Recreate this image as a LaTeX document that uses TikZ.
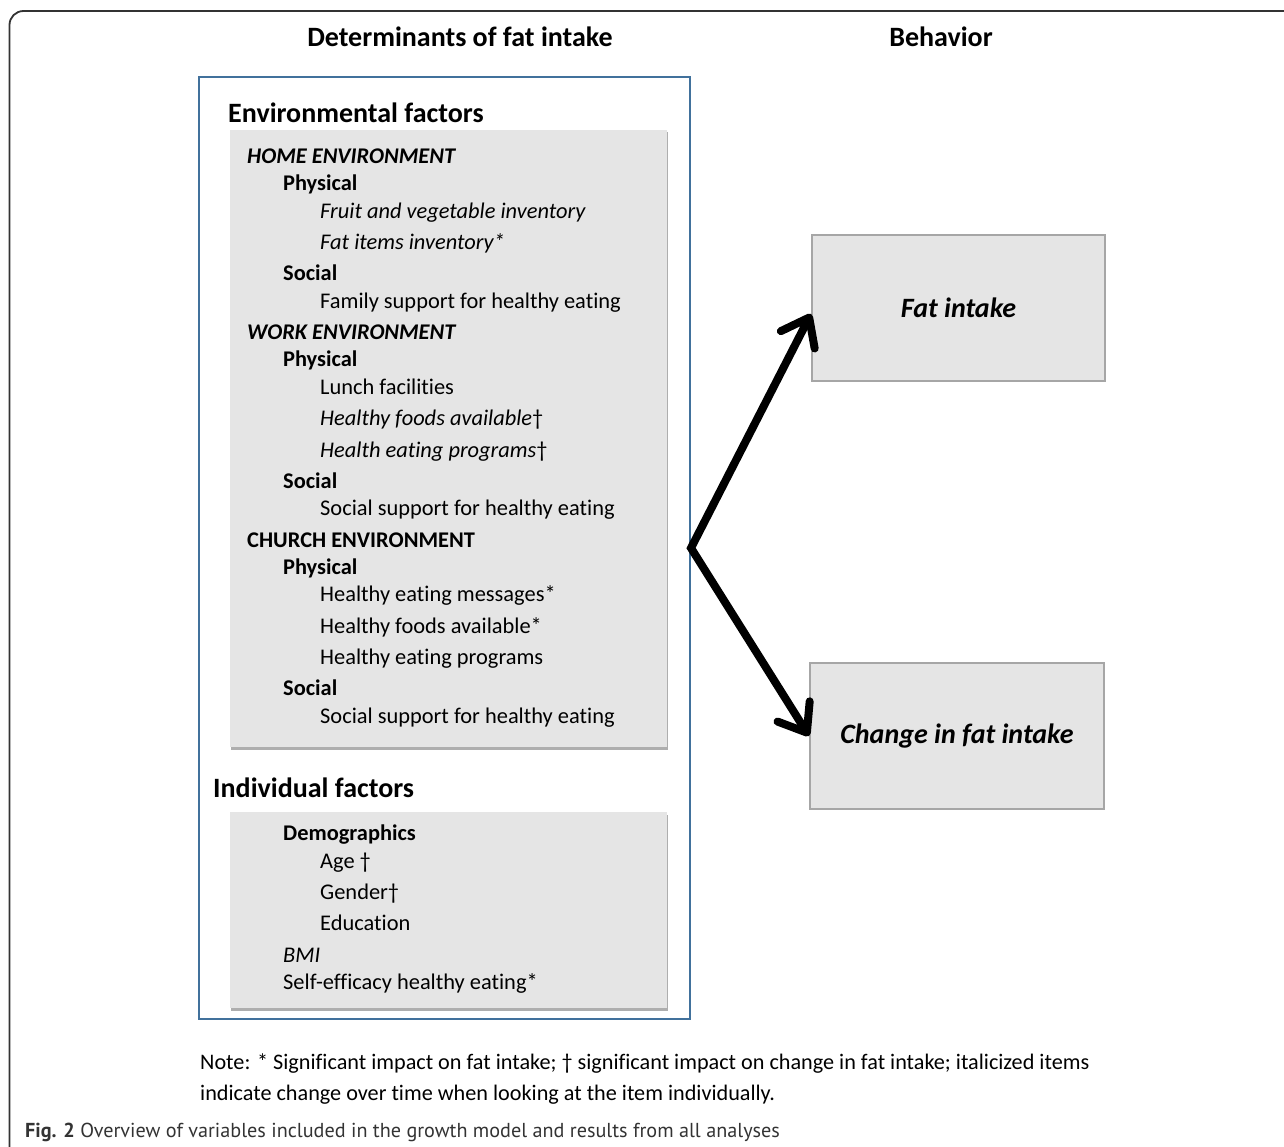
\documentclass[tikz,border=0pt]{standalone}
\usepackage{fontspec}
\setmainfont{Carlito}[Ligatures=NoCommon]
\newfontfamily\capfont{PT Sans}
\usetikzlibrary{arrows.meta,shadows}
\definecolor{boxblue}{RGB}{65,113,156}
\definecolor{panelgray}{RGB}{229,229,229}
\definecolor{edgegray}{RGB}{166,166,166}
\tikzset{
  item/.style={anchor=base west,inner sep=0pt,font=\fontsize{22.4}{26}\selectfont},
  head/.style={anchor=base west,inner sep=0pt,font=\bfseries\fontsize{28}{34}\selectfont},
  note/.style={anchor=base west,inner sep=0pt,font=\fontsize{22.2}{26}\selectfont},
  panel/.style={fill=panelgray,drop shadow={shadow xshift=1pt,shadow yshift=-2.5pt,opacity=.45,fill=black!70}},
  outcome/.style={draw=edgegray,line width=2pt,fill=panelgray,font=\bfseries\itshape\fontsize{28}{34}\selectfont},
  flow/.style={line width=8pt,line join=miter,{Straight Barb[length=25pt,width=38pt,round]}-{Straight Barb[length=25pt,width=38pt,round]}}
}
\begin{document}
\begin{tikzpicture}[x=1pt,y=-1pt]
  \useasboundingbox (0,0) rectangle (1284,1147);
  \draw[line width=1.8pt,black!80,rounded corners=14pt] (9.5,1147) -- (9.5,11) -- (1290,11);
  % column titles
  \node[head,anchor=base] (dethead) at (460,47) {Determinants of fat intake};
  \node[head,anchor=base] (behhead) at (941,47) {Behavior};
  % determinants
  \node[draw=boxblue,line width=2pt,minimum width=491pt,minimum height=942pt] (det) at (444.5,548) {};
  \node[panel,minimum width=437pt,minimum height=617pt] (envbox) at (448.5,438.5) {};
  \node[panel,minimum width=437pt,minimum height=196pt] (indbox) at (448.5,910) {};
  \node[head] (envhead) at (228,123) {Environmental factors};
  \node[item,font=\bfseries\itshape\fontsize{22.4}{26}\selectfont] (home) at (247,164) {HOME ENVIRONMENT};
  \node[item,font=\bfseries\fontsize{22.4}{26}\selectfont] (homephys) at (283,191) {Physical};
  \node[item,font=\itshape\fontsize{22.4}{26}\selectfont] (fv) at (320,218.7) {Fruit and vegetable inventory};
  \node[item,font=\itshape\fontsize{22.4}{26}\selectfont] (fatinv) at (320,250) {Fat items inventory*};
  \node[item,font=\bfseries\fontsize{22.4}{26}\selectfont] (homesoc) at (283,281) {Social};
  \node[item] (famsup) at (320,308.7) {Family support for healthy eating};
  \node[item,font=\bfseries\itshape\fontsize{22.4}{26}\selectfont] (work) at (247,339.7) {WORK ENVIRONMENT};
  \node[item,font=\bfseries\fontsize{22.4}{26}\selectfont] (workphys) at (283,366) {Physical};
  \node[item] (lunch) at (320,394) {Lunch facilities};
  \node[item,font=\itshape\fontsize{22.4}{26}\selectfont] (workfood) at (320,425) {Healthy foods available\textup{†}};
  \node[item,font=\itshape\fontsize{22.4}{26}\selectfont] (workprog) at (320,457) {Health eating programs\textup{†}};
  \node[item,font=\bfseries\fontsize{22.4}{26}\selectfont] (worksoc) at (283,488) {Social};
  \node[item] (worksup) at (320,515) {Social support for healthy eating};
  \node[item,font=\bfseries\fontsize{22.4}{26}\selectfont] (church) at (247,547) {CHURCH ENVIRONMENT};
  \node[item,font=\bfseries\fontsize{22.4}{26}\selectfont] (churchphys) at (283,574) {Physical};
  \node[item] (msg) at (320,601) {Healthy eating messages*};
  \node[item] (churchfood) at (320,633) {Healthy foods available*};
  \node[item] (churchprog) at (320,664) {Healthy eating programs};
  \node[item,font=\bfseries\fontsize{22.4}{26}\selectfont] (churchsoc) at (283,695) {Social};
  \node[item] (churchsup) at (320,723.7) {Social support for healthy eating};
  \node[head] (indhead) at (213,797) {Individual factors};
  \node[item,font=\bfseries\fontsize{22.4}{26}\selectfont] (demo) at (283,840) {Demographics};
  \node[item] (age) at (320,868.7) {Age †};
  \node[item] (gender) at (320,899.7) {Gender†};
  \node[item] (edu) at (320,930) {Education};
  \node[item,font=\itshape\fontsize{22.4}{26}\selectfont] (bmi) at (283,962) {BMI};
  \node[item] (selfeff) at (283,989.7) {Self-efficacy healthy eating*};
  % behavior
  \node[outcome,minimum width=293pt,minimum height=146pt] (fat) at (958.5,308) {Fat intake};
  \node[outcome,minimum width=294pt,minimum height=146pt] (chg) at (957,736) {Change in fat intake};
  \draw[flow] ([yshift=-6pt]fat.west) -- (det.east) -- (chg.west);
  % note and caption
  \node[note] (note1) at (200,1069) {Note: * Significant impact on fat intake; † significant impact on change in fat intake; italicized items};
  \node[note] (note2) at (200,1100) {indicate change over time when looking at the item individually.};
  \node[note,font=\capfont\fontsize{20.2}{24}\selectfont,text=black!80] (cap) at (25,1137) {\textbf{Fig. 2} Overview of variables included in the growth model and results from all analyses};
\end{tikzpicture}
\end{document}
